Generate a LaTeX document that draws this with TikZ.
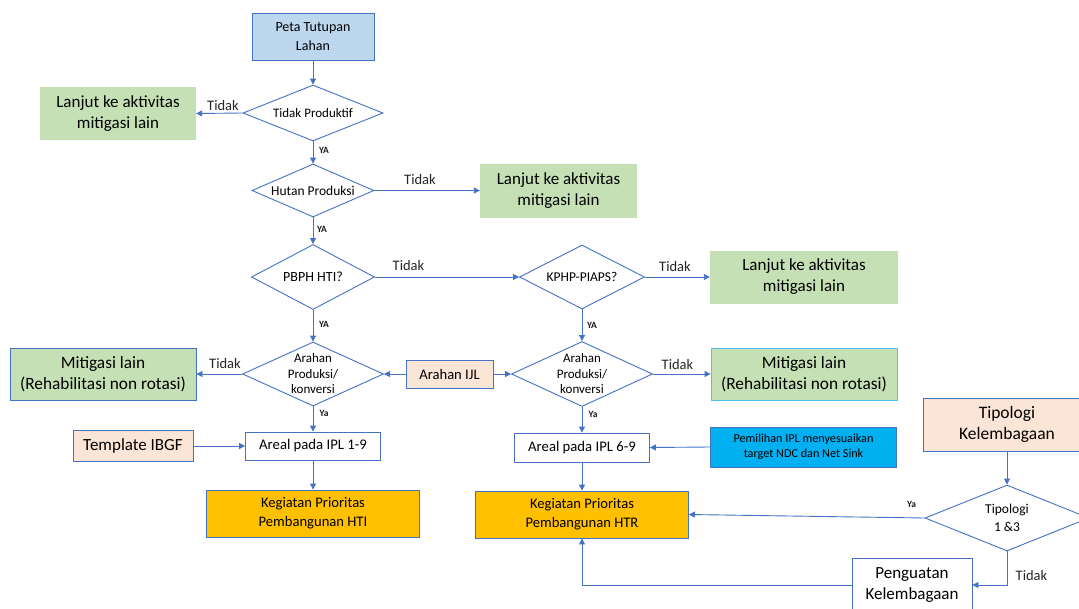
\documentclass[tikz,border=0pt]{standalone}
\usepackage{fontspec}
\setmainfont{Carlito}
\usetikzlibrary{shapes.geometric,arrows.meta}

\definecolor{lineblue}{HTML}{4472C4}
\definecolor{headblue}{HTML}{BDD7EE}
\definecolor{softgreen}{HTML}{C5E0B4}
\definecolor{peach}{HTML}{FBE5D6}
\definecolor{gold}{HTML}{FFC000}
\definecolor{skyblue}{HTML}{00B0F0}
\definecolor{cyanline}{HTML}{4FC3F0}

\tikzset{
    arr/.style={draw=lineblue, line width=0.9pt, -{Triangle[length=6pt,width=6pt]}},
    box/.style={rectangle, draw=lineblue, line width=0.9pt, align=center, inner sep=0pt},
    greenbox/.style={rectangle, fill=softgreen, align=center, inner sep=0pt},
    choice/.style={diamond, draw=lineblue, line width=0.9pt, inner sep=0pt},
    lbl/.style={text=black!85, font=\fontsize{14.5}{17}\selectfont},
    yalbl/.style={text=black!90, font=\fontsize{9.5}{11}\selectfont\bfseries}
}

\begin{document}
\begin{tikzpicture}[x=1pt, y=-1pt]

    \useasboundingbox (0, 0) rectangle (1079, 608);
    \fill[white] (0, 0) rectangle (1079, 608);

    \node[box, fill=headblue, minimum width=122pt, minimum height=47pt, font=\fontsize{14}{19}\selectfont] (peta) at (313, 36.5) {Peta Tutupan\\Lahan};

    \node[choice, minimum width=140pt, minimum height=56pt, label={[font=\fontsize{13}{16}\selectfont]center:Tidak Produktif}] (tdkprod) at (313, 113) {};
    \node[choice, minimum width=122pt, minimum height=53pt, label={[font=\fontsize{13.5}{16}\selectfont]center:Hutan Produksi}] (hutan) at (313, 190.5) {};
    \node[choice, minimum width=123pt, minimum height=65pt, label={[font=\fontsize{14}{16}\selectfont]center:PBPH HTI?}] (pbph) at (313, 277) {};
    \node[choice, minimum width=125pt, minimum height=64pt, label={[font=\fontsize{13.5}{16}\selectfont]center:KPHP-PIAPS?}] (kphp) at (582, 277) {};
    \node[choice, minimum width=141pt, minimum height=64pt, label={[font=\fontsize{13}{15.5}\selectfont, align=center]center:{Arahan\\Produksi/\\konversi}}] (arahan1) at (313, 374) {};
    \node[choice, minimum width=141pt, minimum height=65pt, label={[font=\fontsize{13}{15.5}\selectfont, align=center]center:{Arahan\\Produksi/\\konversi}}] (arahan2) at (582, 374) {};
    \node[choice, minimum width=164pt, minimum height=66pt, label={[font=\fontsize{13.5}{18}\selectfont, align=center]center:{Tipologi\\1 \&3}}] (tip13) at (1007, 518) {};

    \node[greenbox, minimum width=156pt, minimum height=53pt, font=\fontsize{17}{21}\selectfont] (lanjut1) at (118, 113.5) {Lanjut ke aktivitas\\mitigasi lain};
    \node[greenbox, minimum width=157pt, minimum height=54pt, font=\fontsize{17}{21}\selectfont] (lanjut2) at (558.5, 190.5) {Lanjut ke aktivitas\\mitigasi lain};
    \node[greenbox, minimum width=188pt, minimum height=53pt, font=\fontsize{17}{21}\selectfont] (lanjut3) at (804, 277) {Lanjut ke aktivitas\\mitigasi lain};
    \node[box, fill=softgreen, minimum width=186pt, minimum height=52pt, font=\fontsize{17.3}{21}\selectfont] (mitig1) at (103, 374) {Mitigasi lain\\(Rehabilitasi non rotasi)};
    \node[box, draw=cyanline, fill=softgreen, minimum width=186pt, minimum height=52pt, font=\fontsize{17.3}{21}\selectfont] (mitig2) at (804, 374) {Mitigasi lain\\(Rehabilitasi non rotasi)};

    \node[box, fill=peach, minimum width=87pt, minimum height=28pt, font=\fontsize{14.6}{17}\selectfont] (ijl) at (449.5, 374) {Arahan IJL};
    \node[box, fill=peach, minimum width=120pt, minimum height=31pt, font=\fontsize{17}{20}\selectfont] (template) at (133, 446) {Template IBGF};
    \node[box, minimum width=135pt, minimum height=28pt, font=\fontsize{14.7}{17}\selectfont] (areal1) at (313, 446) {Areal pada IPL 1-9};
    \node[box, minimum width=135pt, minimum height=29pt, font=\fontsize{14.7}{17}\selectfont] (areal2) at (582, 447.5) {Areal pada IPL 6-9};
    \node[box, fill=skyblue, minimum width=186pt, minimum height=40pt, font=\fontsize{12.2}{15.5}\selectfont] (pemilihan) at (803.5, 447) {Pemilihan IPL menyesuaikan\\target NDC dan Net Sink};
    \node[box, fill=gold, minimum width=213pt, minimum height=47pt, font=\fontsize{14.6}{19}\selectfont] (hti) at (313, 513.5) {Kegiatan Prioritas\\Pembangunan HTI};
    \node[box, fill=gold, minimum width=213pt, minimum height=47pt, font=\fontsize{14.6}{19}\selectfont] (htr) at (582, 514.5) {Kegiatan Prioritas\\Pembangunan HTR};
    \node[box, fill=peach, minimum width=168pt, minimum height=53pt, font=\fontsize{17.5}{21}\selectfont] (tipbox) at (1007, 424.5) {Tipologi\\Kelembagaan};
    \node[box, fill=white, minimum width=120pt, minimum height=54pt, font=\fontsize{17}{21}\selectfont] (penguatan) at (912, 585) {Penguatan\\Kelembagaan};

    \draw[arr] (peta) -- (tdkprod);
    \draw[arr] (tdkprod.west) -- (lanjut1.east);
    \draw[arr] (tdkprod) -- (hutan);
    \draw[arr] (hutan.east) -- (lanjut2.west);
    \draw[arr] (hutan) -- (pbph);
    \draw[arr] (pbph.east) -- (kphp.west);
    \draw[arr] (pbph) -- (arahan1);
    \draw[arr] (kphp.east) -- (lanjut3.west);
    \draw[arr] (kphp) -- (arahan2);
    \draw[arr] (ijl.west) -- (arahan1.east);
    \draw[arr] (ijl.east) -- (arahan2.west);
    \draw[arr] (arahan1.west) -- (mitig1.east);
    \draw[arr] (arahan2.east) -- (mitig2.west);
    \draw[arr] (arahan1) -- (areal1);
    \draw[arr] (arahan2) -- (areal2);
    \draw[arr] (template.east) -- (areal1.west);
    \draw[arr] (pemilihan.west) -- (areal2.east);
    \draw[arr] (areal1) -- (hti);
    \draw[arr] (areal2) -- (htr);
    \draw[arr] (tipbox) -- (tip13);
    \draw[arr] (tip13.west) -- (htr.east);
    \draw[arr] (tip13.south) |- (penguatan.east);
    \draw[arr] (penguatan.west) -| (htr.south);

    \node[lbl] (tidak1) at (223, 106) {Tidak};
    \node[lbl] (tidak2) at (420, 180) {Tidak};
    \node[lbl] (tidak3) at (408.5, 266) {Tidak};
    \node[lbl] (tidak4) at (675, 267) {Tidak};
    \node[lbl] (tidak5) at (225, 364) {Tidak};
    \node[lbl] (tidak6) at (677.5, 365) {Tidak};
    \node[lbl] (tidak7) at (1031.5, 576) {Tidak};

    \node[yalbl] (ya1) at (324, 150) {YA};
    \node[yalbl] (ya2) at (322, 229) {YA};
    \node[yalbl] (ya3) at (324, 324) {YA};
    \node[yalbl] (ya4) at (592, 325) {YA};
    \node[yalbl] (ya5) at (324, 413) {Ya};
    \node[yalbl] (ya6) at (593, 414) {Ya};
    \node[yalbl] (ya7) at (911.5, 504) {Ya};

\end{tikzpicture}
\end{document}
